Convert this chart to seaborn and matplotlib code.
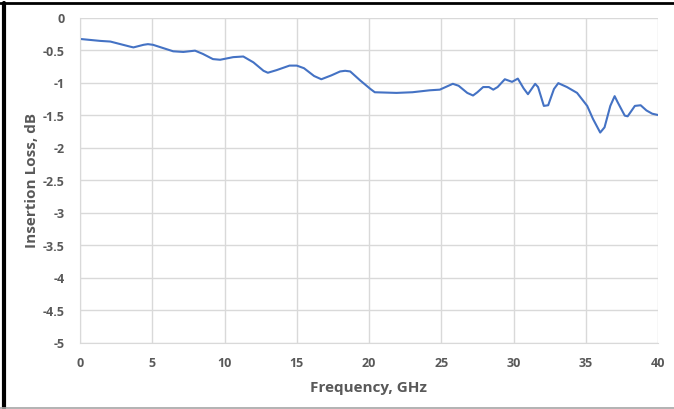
import matplotlib
matplotlib.use("Agg")
import matplotlib.pyplot as plt
from matplotlib.lines import Line2D
import seaborn as sns
import numpy as np
import pandas as pd

# Datos (frecuencia en GHz, pérdida en dB)
freq_ghz = [0.0, 1.4, 2.1, 2.8, 3.5, 3.7, 4.4, 4.7, 5.05, 5.75, 6.45, 7.15, 7.96,
            8.5, 9.2, 9.7, 10.6, 11.3, 12.0, 12.7, 13.0, 13.6, 14.5, 15.0, 15.5,
            16.2, 16.7, 17.4, 18.0, 18.35, 18.7, 19.4, 20.1, 20.4, 21.9, 23.0,
            24.2, 24.9, 25.3, 25.8, 26.2, 26.8, 27.2, 27.5, 27.9, 28.3, 28.6,
            28.9, 29.4, 29.9, 30.3, 30.7, 31.0, 31.5, 31.7, 32.1, 32.4, 32.8,
            33.1, 33.7, 34.4, 35.1, 35.5, 36.0, 36.3, 36.7, 37.0, 37.2, 37.7,
            37.9, 38.4, 38.8, 39.2, 39.6, 40.0]
loss_db = [-0.33, -0.36, -0.37, -0.41, -0.45, -0.46, -0.42, -0.41, -0.42, -0.47,
           -0.52, -0.53, -0.51, -0.56, -0.64, -0.65, -0.61, -0.60, -0.69, -0.82,
           -0.85, -0.81, -0.74, -0.74, -0.78, -0.90, -0.95, -0.89, -0.83, -0.82,
           -0.83, -0.97, -1.10, -1.15, -1.16, -1.15, -1.12, -1.11, -1.07, -1.02,
           -1.05, -1.16, -1.20, -1.15, -1.07, -1.07, -1.11, -1.07, -0.95, -0.99,
           -0.94, -1.09, -1.18, -1.02, -1.07, -1.36, -1.35, -1.10, -1.01, -1.07,
           -1.16, -1.36, -1.56, -1.77, -1.69, -1.36, -1.21, -1.30, -1.51, -1.52,
           -1.36, -1.35, -1.43, -1.48, -1.50]

x_ticks = [0, 5, 10, 15, 20, 25, 30, 35, 40]
y_ticks = [0, -0.5, -1, -1.5, -2, -2.5, -3, -3.5, -4, -4.5, -5]

df = pd.DataFrame({"freq": freq_ghz, "loss": loss_db})

sns.set_style("white")
plt.rcParams["font.family"] = ["Open Sans", "DejaVu Sans"]

fig = plt.figure(figsize=(6.74, 4.10), dpi=100)
ax = fig.add_axes([80 / 674, 66.5 / 410, 578 / 674, 325 / 410])

sns.lineplot(data=df, x="freq", y="loss", ax=ax, color="#4472C4", linewidth=1.5)

ax.set_xlim(0, 40)
ax.set_ylim(-5, 0)
ax.set_xticks(x_ticks)
ax.set_yticks(y_ticks)
ax.set_xticklabels([str(t) for t in x_ticks])
ax.set_yticklabels([f"{t:g}" for t in y_ticks])
ax.grid(True, color="#d9d9d9", linewidth=1)
ax.set_axisbelow(True)
for s in ax.spines.values():
    s.set_visible(False)
ax.spines["left"].set_visible(True)
ax.spines["bottom"].set_visible(True)
ax.spines["left"].set_color("#d9d9d9")
ax.spines["bottom"].set_color("#d9d9d9")
ax.tick_params(axis="both", length=0, labelsize=9, labelcolor="#595959")
ax.tick_params(axis="x", pad=10)
ax.tick_params(axis="y", pad=11)
for lab in ax.get_xticklabels() + ax.get_yticklabels():
    lab.set_fontweight("bold")

ax.set_xlabel("Frequency, GHz", fontsize=11, fontweight="bold", color="#595959", labelpad=8)
ax.set_ylabel("Insertion Loss, dB", fontsize=11, fontweight="bold", color="#595959", labelpad=3)

# Borde de la figura
fig.add_artist(Line2D([0, 1], [1 - 4 / 410, 1 - 4 / 410], transform=fig.transFigure,
                      color="black", linewidth=2))
fig.add_artist(Line2D([4 / 674, 4 / 674], [1 / 410, 1 - 4 / 410], transform=fig.transFigure,
                      color="black", linewidth=3))
fig.add_artist(Line2D([0, 1], [1.5 / 410, 1.5 / 410], transform=fig.transFigure,
                      color="#a6a6a6", linewidth=1.2))

fig.savefig("out.png", dpi=100)
